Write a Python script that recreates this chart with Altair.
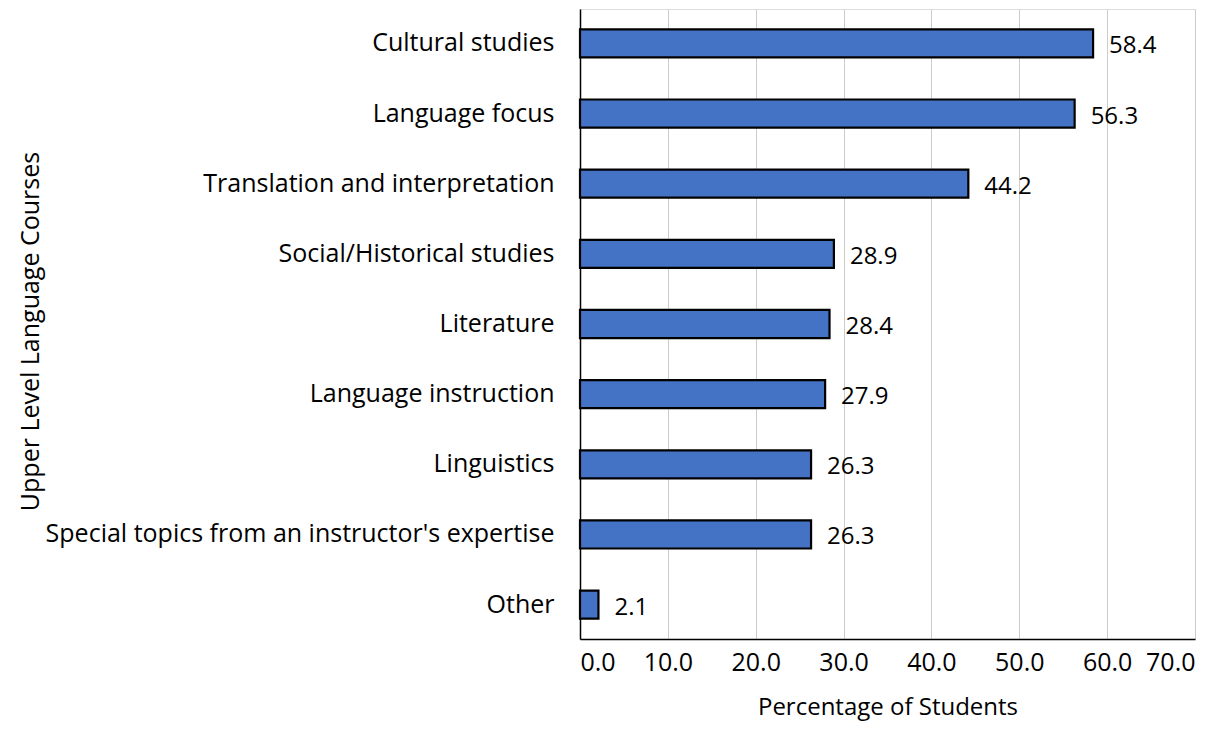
import altair as alt
import pandas as pd

categories = [
    "Cultural studies",
    "Language focus",
    "Translation and interpretation",
    "Social/Historical studies",
    "Literature",
    "Language instruction",
    "Linguistics",
    "Special topics from an instructor's expertise",
    "Other",
]
values = [58.4, 56.3, 44.2, 28.9, 28.4, 27.9, 26.3, 26.3, 2.1]
x_ticks = [0, 10, 20, 30, 40, 50, 60, 70]

df = pd.DataFrame({"course": categories, "pct": values})
df["label"] = df["pct"].map(lambda v: f"{v:.1f}")

FONT = "Open Sans"
FS = 25

y_enc = alt.Y(
    "course:N",
    sort=categories,
    scale=alt.Scale(paddingInner=0.6, paddingOuter=0.29),
    axis=alt.Axis(
        title="Upper Level Language Courses",
        titleFont=FONT,
        titleFontSize=FS,
        titleFontWeight="normal",
        titleColor="#000000",
        titleX=-550,
        titleY=322,
        titleAngle=270,
        titleBaseline="middle",
        titleAlign="center",
        labelFont=FONT,
        labelFontSize=FS,
        labelColor="#000000",
        labelPadding=26,
        labelLimit=600,
        ticks=False,
        domainColor="#000000",
        domainWidth=1.5,
    ),
)

bars = alt.Chart(df).mark_bar(
    color="#4472C4", stroke="#000000", strokeWidth=2.2
).encode(
    x=alt.X(
        "pct:Q",
        scale=alt.Scale(domain=[0, 70]),
        axis=alt.Axis(
            values=x_ticks,
            format=".1f",
            title="Percentage of Students",
            titleFont=FONT,
            titleFontSize=24,
            titleFontWeight="normal",
            titleColor="#000000",
            titlePadding=20,
            labelFont=FONT,
            labelFontSize=FS,
            labelColor="#000000",
            labelPadding=11,
            ticks=False,
            grid=True,
            gridColor="#cccccc",
            gridWidth=1,
            domainColor="#000000",
            domainWidth=1.5,
        ),
    ),
    y=y_enc,
)

text = alt.Chart(df).mark_text(
    align="left", baseline="middle", dx=16, dy=3, font=FONT, fontSize=24, color="#000000"
).encode(
    x="pct:Q",
    y=alt.Y("course:N", sort=categories),
    text="label:N",
)

chart = (bars + text).properties(
    width=615,
    height=630,
    autosize=alt.AutoSizeParams(type="none"),
    padding={"left": 572, "top": 1, "right": 18, "bottom": 87},
).configure_view(stroke=None).configure(background="white")

chart.save("out.html", embed_options={"renderer": "svg", "actions": False})
